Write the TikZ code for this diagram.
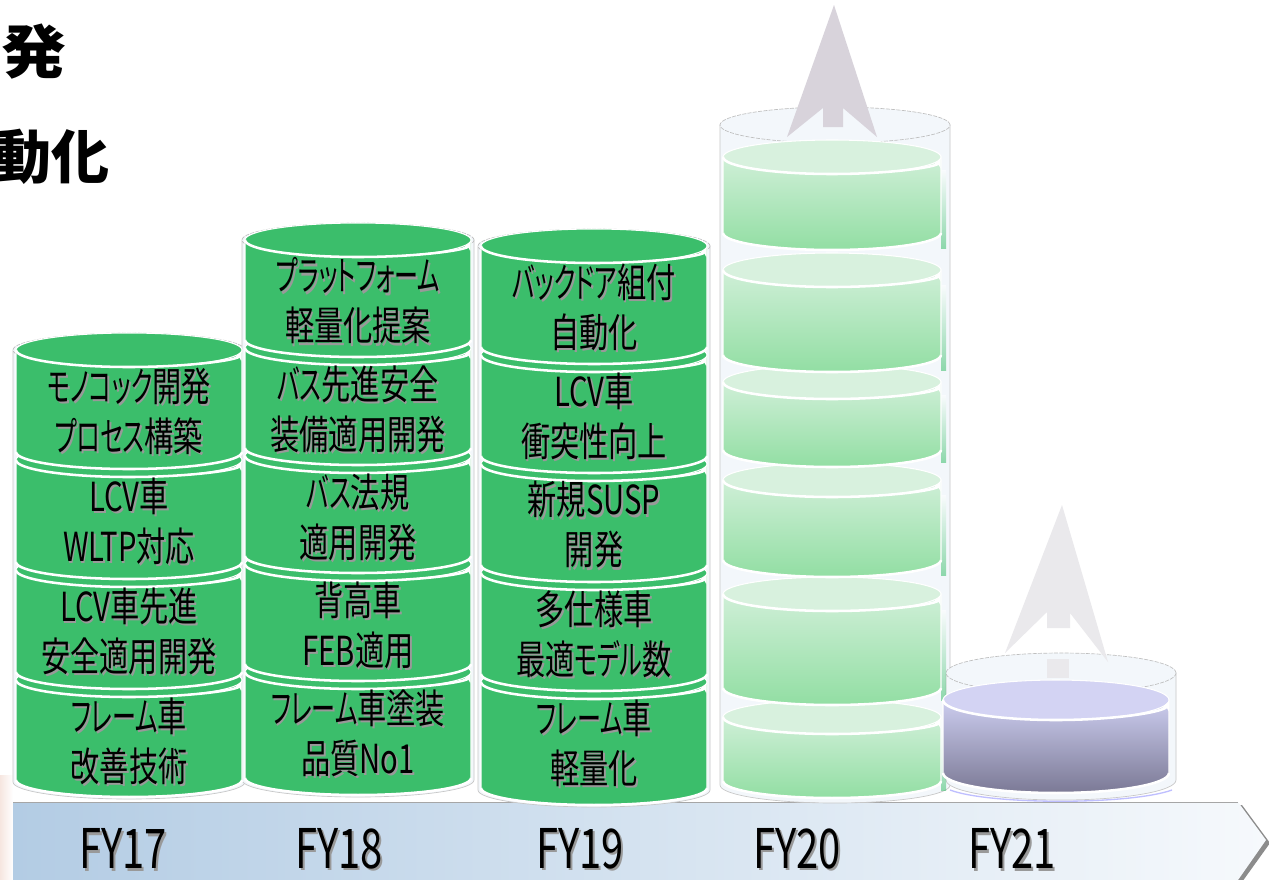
\documentclass[tikz,border=0pt]{standalone}
\usepackage{fontspec}
\usetikzlibrary{arrows.meta}
\newfontfamily\jp[FakeStretch=0.73,RawFeature=+palt]{Noto Sans CJK JP}
\newfontfamily\jpk[FakeStretch=0.6,RawFeature=+palt]{Noto Sans CJK JP}
\newfontfamily\jpt{Noto Sans CJK JP}
\definecolor{cg}{HTML}{3BBE6B}
\definecolor{lgT}{HTML}{CFEFD7}
\definecolor{lgB}{HTML}{92DEA3}
\definecolor{lgTop}{HTML}{D8F1DE}
\definecolor{pT}{HTML}{CCCDEF}
\definecolor{pB}{HTML}{7B7995}
\definecolor{pTop}{HTML}{D3D3F3}
\definecolor{shellc}{HTML}{F3F7FB}
\definecolor{arrA}{HTML}{D8D3DB}
\definecolor{arrB}{HTML}{EAE9EC}
\definecolor{barL}{HTML}{B3CCE4}
\definecolor{barM}{HTML}{EEF3F9}
\definecolor{barR}{HTML}{F6F9FC}
\definecolor{pinkbl}{HTML}{F6E6E0}
\newcommand\sh[1]{\rlap{\kern1.4pt\raisebox{-1.6pt}{\textcolor{black!40}{#1}}}#1}
\newcommand\kn[1]{{\jpk #1}}
% cx rx ty by ry bodystyle topstyle
\newcommand\cylseg[7]{%
  \pgfmathsetmacro\RX{#2*0.75}\pgfmathsetmacro\RY{#5*0.75}%
  \path[#6] (#1-#2,#3) -- (#1-#2,#4) arc[start angle=180,end angle=360,x radius=\RX pt,y radius=\RY pt] -- (#1+#2,#3) -- cycle;
  \draw[white,line width=1.9pt] (#1-#2,#4) arc[start angle=180,end angle=360,x radius=\RX pt,y radius=\RY pt];
  \path[#7] (#1,#3) ellipse[x radius=\RX pt,y radius=\RY pt];
  \draw[white,line width=1.9pt,-{Stealth[length=7pt,width=6pt]}] (#1-#2,#3) arc[start angle=180,end angle=356,x radius=\RX pt,y radius=\RY pt];
}
% cx rx ty by ry
\newcommand\shellcyl[5]{%
  \pgfmathsetmacro\RX{#2*0.75}\pgfmathsetmacro\RY{#5*0.75}%
  \path[shell] (#1-#2,#3) -- (#1-#2,#4) arc[start angle=180,end angle=360,x radius=\RX pt,y radius=\RY pt] -- (#1+#2,#3) -- cycle;
  \path[fill=shellc,draw=black!25,line width=0.5pt,dash pattern=on 3pt off 1pt] (#1,#3) ellipse[x radius=\RX pt,y radius=\RY pt];
}
% green streak on the right of a FY20 segment: ty by
\newcommand\streak[2]{\shade[top color=white,bottom color=cg,opacity=0.55] (941,#1) rectangle (946,#2);}
\tikzset{
  gbody/.style={fill=cg,draw=white,line width=0.8pt},
  gtop/.style={fill=cg,draw=white,line width=0.8pt},
  lbody/.style={top color=lgT,bottom color=lgB,draw=white,line width=1pt},
  ltop/.style={fill=lgTop,draw=white,line width=0.8pt},
  pbody/.style={top color=pT,bottom color=pB,draw=white,line width=1pt},
  ptop/.style={fill=pTop,draw=white,line width=0.8pt},
  shell/.style={fill=shellc,draw=black!22,line width=0.5pt},
  lbl/.style={font=\jp\fontsize{30}{37.5}\selectfont,align=center,inner sep=0pt,text=black},
  fy/.style={font=\jp\fontsize{41}{41}\selectfont,inner sep=0pt,text=black},
  ttl/.style={font=\jpt\bfseries\fontsize{43.5}{43.5}\selectfont,inner sep=0pt,anchor=east,text=black},
}
\begin{document}
\begin{tikzpicture}[x=0.75pt,y=-0.75pt]
\useasboundingbox (0,0) rectangle (1269,879);
\clip (0,0) rectangle (1269,879);
\fill[white] (0,0) rectangle (1269,879);

% title fragments
\node[ttl] (h1) at (67,52) {\scalebox{1.12}[1]{発}};
\node[ttl] (h2) at (110,157) {動化};

% left edge blur
\shade[left color=pinkbl,right color=white] (0,775) rectangle (13,879);

% bottom bar
\fill[black!45] (16,805) -- (1242,805) -- (1270,843) -- (1242,882) -- (16,882) -- cycle;
\shade[left color=barL,middle color=barM,right color=barR] (13,802) -- (1238,802) -- (1266,840) -- (1238,880) -- (13,880) -- cycle;
\draw[black!35,line width=0.6pt] (13,802) -- (1238,802);

% shells
\shellcyl{129}{116}{350}{782}{17}
\shellcyl{358}{116}{240}{780}{17}
\shellcyl{594}{116}{246}{790}{17}
\shellcyl{835}{115}{125}{785}{18}
\shellcyl{1061}{115}{673}{780}{20}

% growth arrows
\fill[arrA] (834,5) -- (877,137) -- (843,108) -- (843,127) -- (823,127) -- (823,108) -- (787,137) -- cycle;
\fill[arrB] (1062,505) -- (1108,662) -- (1070,613) -- (1070,628) -- (1047,628) -- (1047,612) -- (1005,653) -- cycle;
\fill[arrB] (1047,659) rectangle (1069,678);

% FY17
\cylseg{129}{113}{680}{780}{17}{gbody}{gtop}
\cylseg{129}{113}{570}{672}{17}{gbody}{gtop}
\cylseg{129}{113}{460}{562}{17}{gbody}{gtop}
\cylseg{129}{113}{350}{452}{17}{gbody}{gtop}
% FY18
\cylseg{358}{113}{672}{778}{17}{gbody}{gtop}
\cylseg{358}{113}{564}{664}{17}{gbody}{gtop}
\cylseg{358}{113}{456}{556}{17}{gbody}{gtop}
\cylseg{358}{113}{348}{448}{17}{gbody}{gtop}
\cylseg{358}{113}{240}{340}{17}{gbody}{gtop}
% FY19
\cylseg{594}{113}{682}{788}{17}{gbody}{gtop}
\cylseg{594}{113}{573}{674}{17}{gbody}{gtop}
\cylseg{594}{113}{464}{565}{17}{gbody}{gtop}
\cylseg{594}{113}{355}{456}{17}{gbody}{gtop}
\cylseg{594}{113}{246}{347}{17}{gbody}{gtop}
% FY20
\streak{730}{790}
\streak{610}{700}
\streak{495}{575}
\streak{395}{462}
\streak{285}{370}
\streak{170}{248}
\cylseg{832}{109}{717}{781}{17}{lbody}{ltop}
\cylseg{832}{109}{594}{688}{17}{lbody}{ltop}
\cylseg{832}{109}{480}{560}{17}{lbody}{ltop}
\cylseg{832}{109}{382}{450}{17}{lbody}{ltop}
\cylseg{832}{109}{270}{355}{17}{lbody}{ltop}
\cylseg{832}{109}{157}{233}{17}{lbody}{ltop}
% FY21
\cylseg{1056}{113}{700}{773}{20}{pbody}{ptop}
\draw[blue!25,line width=1pt] (950,790) .. controls (990,805) and (1130,805) .. (1172,790);

% labels FY17
\node[lbl] (a1) at (129,412) {\sh{\kn{モノコック}開発}\\\sh{\kn{プロセス}構築}};
\node[lbl] (a2) at (129,522) {\sh{LCV車}\\\sh{WLTP対応}};
\node[lbl] (a3) at (129,632) {\sh{LCV車先進}\\\sh{安全適用開発}};
\node[lbl] (a4) at (129,742) {\sh{\kn{フレーム}車}\\\sh{改善技術}};
% labels FY18
\node[lbl] (b1) at (358,302) {\sh{\kn{プラットフォーム}}\\\sh{軽量化提案}};
\node[lbl] (b2) at (358,410) {\sh{\kn{バス}先進安全}\\\sh{装備適用開発}};
\node[lbl] (b3) at (358,518) {\sh{\kn{バス}法規}\\\sh{適用開発}};
\node[lbl] (b4) at (358,626) {\sh{背高車}\\\sh{FEB適用}};
\node[lbl] (b5) at (358,734) {\sh{\kn{フレーム}車塗装}\\\sh{品質No1}};
% labels FY19
\node[lbl] (c1) at (594,308) {\sh{\kn{バックドア}組付}\\\sh{自動化}};
\node[lbl] (c2) at (594,417) {\sh{LCV車}\\\sh{衝突性向上}};
\node[lbl] (c3) at (594,526) {\sh{新規SUSP}\\\sh{開発}};
\node[lbl] (c4) at (594,635) {\sh{多仕様車}\\\sh{最適\kn{モデル}数}};
\node[lbl] (c5) at (594,744) {\sh{\kn{フレーム}車}\\\sh{軽量化}};

% year labels
\node[fy] (y17) at (123,850) {\sh{FY17}};
\node[fy] (y18) at (339,850) {\sh{FY18}};
\node[fy] (y19) at (580,850) {\sh{FY19}};
\node[fy] (y20) at (797,850) {\sh{FY20}};
\node[fy] (y21) at (1012,850) {\sh{FY21}};
\end{tikzpicture}
\end{document}
